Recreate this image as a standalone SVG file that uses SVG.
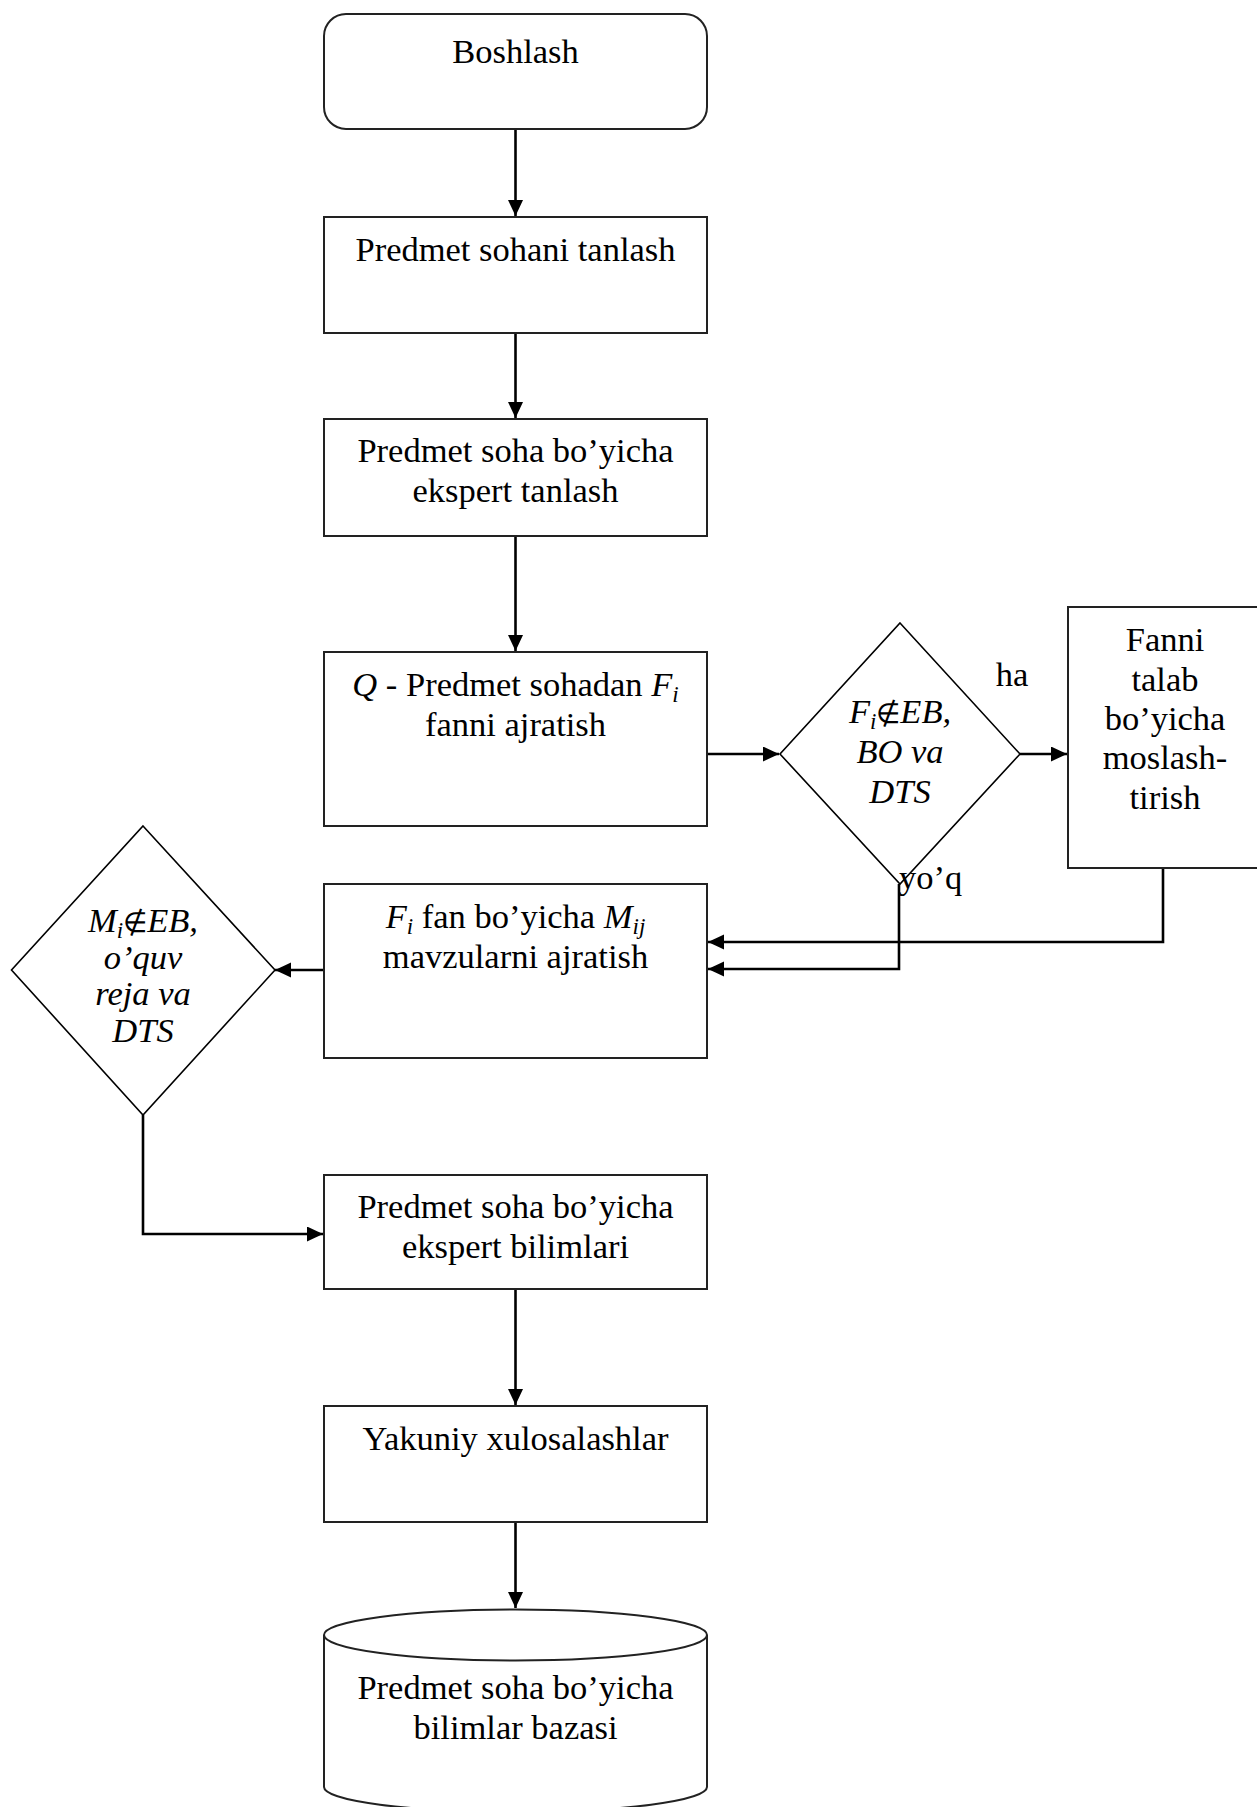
<svg xmlns="http://www.w3.org/2000/svg" width="1257" height="1807" viewBox="0 0 1257 1807">
<style>
.box{fill:#fff;stroke:#222;stroke-width:2}
.dia{fill:#fff;stroke:#000;stroke-width:1.6}
.t{font-family:"Liberation Serif","Times New Roman",serif;font-size:34.5px;fill:#000;text-anchor:middle}
.it{font-style:italic}
.c{fill:none;stroke:#000;stroke-width:2.6}
.ni{font-style:normal;font-size:28px}
</style>
<defs>
<marker id="ah" markerUnits="userSpaceOnUse" markerWidth="18" markerHeight="16" refX="16" refY="7.5" orient="auto">
<path d="M0,0 L16,7.5 L0,15 z" fill="#000"/>
</marker>
</defs>
<rect width="1257" height="1807" fill="#fff"/>
<g id="connectors">
<line class="c" x1="515.5" y1="129" x2="515.5" y2="216" marker-end="url(#ah)"/>
<line class="c" x1="515.5" y1="333" x2="515.5" y2="418" marker-end="url(#ah)"/>
<line class="c" x1="515.5" y1="536" x2="515.5" y2="651" marker-end="url(#ah)"/>
<line class="c" x1="707" y1="754" x2="779" y2="754" marker-end="url(#ah)"/>
<line class="c" x1="1020" y1="754" x2="1067" y2="754" marker-end="url(#ah)"/>
<polyline class="c" points="1163,868 1163,942 708,942" marker-end="url(#ah)"/>
<polyline class="c" points="899,884 899,969 708,969" marker-end="url(#ah)"/>
<line class="c" x1="324" y1="970" x2="275" y2="970" marker-end="url(#ah)"/>
<polyline class="c" points="143,1115 143,1234 323,1234" marker-end="url(#ah)"/>
<line class="c" x1="515.5" y1="1289" x2="515.5" y2="1405" marker-end="url(#ah)"/>
<line class="c" x1="515.5" y1="1522" x2="515.5" y2="1608" marker-end="url(#ah)"/>
</g>
<g id="start">
<rect class="box" x="324" y="14" width="383" height="115" rx="22" ry="22"/>
<text class="t" x="515.5" y="63">Boshlash</text>
</g>
<g id="select-domain">
<rect class="box" x="324" y="217" width="383" height="116"/>
<text class="t" x="515.5" y="261">Predmet sohani tanlash</text>
</g>
<g id="select-expert">
<rect class="box" x="324" y="419" width="383" height="117"/>
<text class="t" x="515.5" y="462">Predmet soha bo’yicha</text>
<text class="t" x="515.5" y="502">ekspert tanlash</text>
</g>
<g id="separate-subject">
<rect class="box" x="324" y="652" width="383" height="174"/>
<text class="t" x="515.5" y="696"><tspan class="it">Q</tspan> - Predmet sohadan <tspan class="it">F</tspan><tspan class="it" font-size="23" dy="6">i</tspan></text>
<text class="t" x="515.5" y="736">fanni ajratish</text>
</g>
<g id="decision1">
<polygon class="dia" points="900,623 1020,754 900,884 780,754"/>
<text class="t it" x="900" y="723">F<tspan font-size="23" dy="6">i</tspan><tspan dy="-6" class="ni">∉</tspan>EB,</text>
<text class="t it" x="900" y="763">BO va</text>
<text class="t it" x="900" y="803">DTS</text>
</g>
<text class="t" x="1012" y="686">ha</text>
<text class="t" x="899" y="889" style="text-anchor:start">yo’q</text>
<g id="adapt">
<rect class="box" x="1068" y="607" width="200" height="261"/>
<text class="t" x="1165" y="651">Fanni</text>
<text class="t" x="1165" y="691">talab</text>
<text class="t" x="1165" y="730">bo’yicha</text>
<text class="t" x="1165" y="769">moslash-</text>
<text class="t" x="1165" y="809">tirish</text>
</g>
<g id="separate-topics">
<rect class="box" x="324" y="884" width="383" height="174"/>
<text class="t" x="515.5" y="928"><tspan class="it">F</tspan><tspan class="it" font-size="23" dy="6">i</tspan><tspan dy="-6"> fan bo’yicha </tspan><tspan class="it">M</tspan><tspan class="it" font-size="23" dy="6">ij</tspan></text>
<text class="t" x="515.5" y="968">mavzularni ajratish</text>
</g>
<g id="decision2">
<polygon class="dia" points="143,826 275,970 143,1115 11.5,970"/>
<text class="t it" x="143" y="932">M<tspan font-size="23" dy="6">i</tspan><tspan dy="-6" class="ni">∉</tspan>EB,</text>
<text class="t it" x="143" y="969">o’quv</text>
<text class="t it" x="143" y="1005">reja va</text>
<text class="t it" x="143" y="1042">DTS</text>
</g>
<g id="expert-knowledge">
<rect class="box" x="324" y="1175" width="383" height="114"/>
<text class="t" x="515.5" y="1218">Predmet soha bo’yicha</text>
<text class="t" x="515.5" y="1258">ekspert bilimlari</text>
</g>
<g id="conclusions">
<rect class="box" x="324" y="1406" width="383" height="116"/>
<text class="t" x="515.5" y="1450">Yakuniy xulosalashlar</text>
</g>
<g id="knowledge-base">
<path class="box" d="M324,1635 L324,1787 A191.5,25 0 0 0 707,1787 L707,1635"/>
<ellipse class="box" cx="515.5" cy="1635" rx="191.5" ry="25.5"/>
<text class="t" x="515.5" y="1699">Predmet soha bo’yicha</text>
<text class="t" x="515.5" y="1739">bilimlar bazasi</text>
</g>
</svg>
